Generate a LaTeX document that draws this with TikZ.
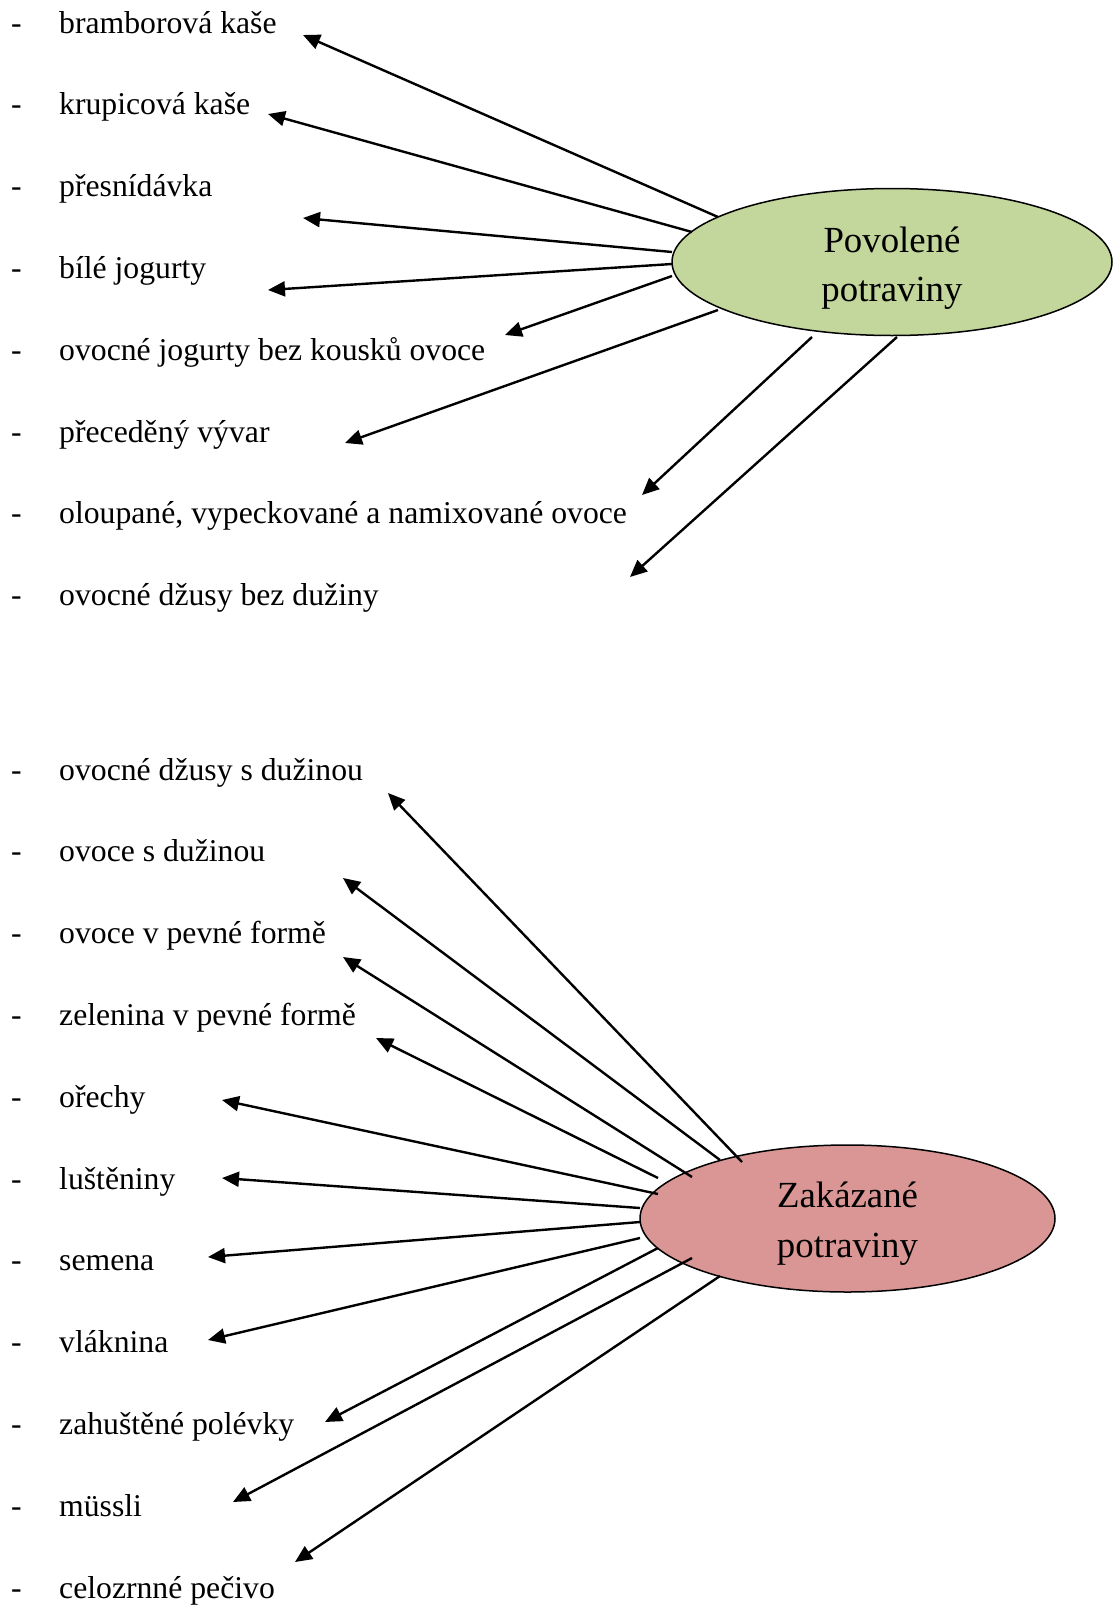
\documentclass[tikz,border=0pt]{standalone}
\usepackage{fontspec}
\setmainfont{Liberation Serif}
\usetikzlibrary{arrows.meta,shapes.geometric}
\definecolor{okgreen}{HTML}{C3D69B}
\definecolor{nored}{HTML}{D99694}
\tikzset{
  arr/.style={line width=2.4pt, -{Triangle[length=17pt,width=15pt]}},
  item/.style={anchor=base west, inner sep=0pt, font=\fontsize{31.7}{38}\selectfont},
  dashmark/.style={anchor=base west, inner sep=0pt, font=\fontsize{31.7}{38}\selectfont},
  blob/.style={ellipse, draw=black, line width=1.5pt, inner sep=0pt},
  blobtext/.style={anchor=base, inner sep=0pt, font=\fontsize{36.8}{44}\selectfont}
}
\begin{document}
\begin{tikzpicture}[x=1pt,y=-1pt]
\useasboundingbox (0,0) rectangle (1117,1606);
% ellipses
\node[blob, fill=okgreen, minimum width=440pt, minimum height=147pt] (P) at (892,262) {};
\node[blobtext] (Pa) at (892,252) {Povolené};
\node[blobtext] (Pb) at (892,301) {potraviny};
\node[blob, fill=nored, minimum width=415pt, minimum height=147pt] (Z) at (847.5,1218.5) {};
\node[blobtext] (Za) at (847.5,1207) {Zakázané};
\node[blobtext] (Zb) at (847.5,1257) {potraviny};
% top list
\foreach \i/\t in {0/bramborová kaše,1/krupicová kaše,2/přesnídávka,3/bílé jogurty,4/ovocné jogurty bez kousků ovoce,5/přeceděný vývar,6/{oloupané, vypeckované a namixované ovoce},7/ovocné džusy bez dužiny}{
  \node[dashmark] (td\i) at (11,33+81.8*\i) {-};
  \node[item] (t\i) at (59,33+81.8*\i) {\t};
}
% bottom list
\foreach \i/\t in {0/ovocné džusy s dužinou,1/ovoce s dužinou,2/ovoce v pevné formě,3/zelenina v pevné formě,4/ořechy,5/luštěniny,6/semena,7/vláknina,8/zahuštěné polévky,9/müssli,10/celozrnné pečivo}{
  \node[dashmark] (bd\i) at (11,780+81.8*\i) {-};
  \node[item] (b\i) at (59,780+81.8*\i) {\t};
}
% top connector ends
\coordinate (ps0) at (718,217); \coordinate (pt0) at (303,35);
\coordinate (ps1) at (692,232); \coordinate (pt1) at (268,114);
\coordinate (ps2) at (672,252); \coordinate (pt2) at (303,218);
\coordinate (ps3) at (672,264); \coordinate (pt3) at (268,290);
\coordinate (ps4) at (672,276); \coordinate (pt4) at (505,335);
\coordinate (ps5) at (718,310); \coordinate (pt5) at (345,443);
\coordinate (ps6) at (812,337); \coordinate (pt6) at (642,495);
\coordinate (ps7) at (897,337); \coordinate (pt7) at (630,577);
\foreach \i in {0,...,7}{\draw[arr] (ps\i) -- (pt\i);}
% bottom connector ends
\coordinate (zs0) at (742,1162); \coordinate (zt0) at (388,793);
\coordinate (zs1) at (720,1160); \coordinate (zt1) at (343,878);
\coordinate (zs2) at (692,1177); \coordinate (zt2) at (343,957);
\coordinate (zs3) at (658,1178); \coordinate (zt3) at (376,1038);
\coordinate (zs4) at (658,1194); \coordinate (zt4) at (222,1100);
\coordinate (zs5) at (640,1208); \coordinate (zt5) at (222,1178);
\coordinate (zs6) at (640,1222); \coordinate (zt6) at (208,1257);
\coordinate (zs7) at (640,1238); \coordinate (zt7) at (208,1340);
\coordinate (zs8) at (658,1248); \coordinate (zt8) at (325,1422);
\coordinate (zs9) at (692,1258); \coordinate (zt9) at (233,1502);
\coordinate (zs10) at (720,1276); \coordinate (zt10) at (295,1562);
\foreach \i in {0,...,10}{\draw[arr] (zs\i) -- (zt\i);}
\end{tikzpicture}
\end{document}
